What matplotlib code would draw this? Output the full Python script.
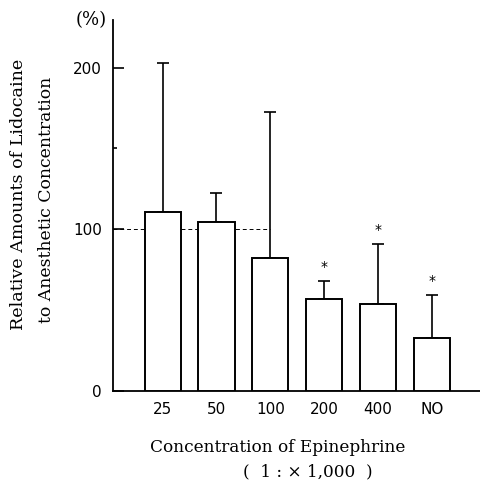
import matplotlib
matplotlib.use("Agg")
import matplotlib.pyplot as plt
import numpy as np

categories = ["25", "50", "100", "200", "400", "NO"]
means = [110.7, 104.5, 82.4, 56.7, 54.0, 32.6]
sd_upper = [92.1, 17.9, 90.1, 11.5, 37.0, 26.9]
significant = [False, False, False, True, True, True]

fig = plt.figure(figsize=(4.8, 4.83), dpi=100)
ax = fig.add_axes([0.2354, 0.1905, 0.7646, 0.768])

x = np.arange(1, len(categories) + 1)
ax.bar(x, means, width=0.67, facecolor="white", edgecolor="black", linewidth=1.4, zorder=3)
ax.errorbar(x, means, yerr=[np.zeros(len(x)), sd_upper], fmt="none", ecolor="black",
            elinewidth=1.2, capsize=4, capthick=1.2, zorder=2)
for xi, m, s, sig in zip(x, means, sd_upper, significant):
    if sig:
        ax.text(xi, m + s + 4, "*", ha="center", va="bottom", fontsize=10, family="DejaVu Sans")

ax.plot([0.08, 3.0], [100, 100], linestyle=(0, (4, 3)), color="black", linewidth=0.7, zorder=1)

ax.set_xlim(0.08, 6.89)
ax.set_ylim(0, 229.4)
ax.spines["top"].set_visible(False)
ax.spines["right"].set_visible(False)
ax.spines["left"].set_linewidth(1.3)
ax.spines["bottom"].set_linewidth(1.3)

ax.set_yticks([0, 100, 200])
ax.set_yticklabels(["0", "100", "200"], fontsize=11)
ax.set_yticks([150], minor=True)
ax.tick_params(axis="y", which="major", direction="in", length=8, width=1.2, pad=8)
ax.tick_params(axis="y", which="minor", direction="in", length=3, width=1.2)
ax.set_xticks(x)
ax.set_xticklabels(categories, fontsize=11)
ax.tick_params(axis="x", length=0, pad=8)

fig.text(91 / 480, 1 - 20 / 483, "(%)", ha="center", va="center",
         fontsize=13, family="DejaVu Serif")

fig.text(278 / 480, 1 - 447 / 483, "Concentration of Epinephrine", ha="center", va="center",
         fontsize=12.2, family="DejaVu Serif")
fig.text(308 / 480, 1 - 472 / 483, "(  1 : × 1,000  )", ha="center", va="center",
         fontsize=12.2, family="DejaVu Serif")
fig.text(19 / 480, 1 - 194 / 483, "Relative Amounts of Lidocaine", rotation=90,
         ha="center", va="center", fontsize=12.6, family="DejaVu Serif")
fig.text(47 / 480, 1 - 200 / 483, "to Anesthetic Concentration", rotation=90,
         ha="center", va="center", fontsize=12.4, family="DejaVu Serif")

fig.savefig("out.png", dpi=100)
